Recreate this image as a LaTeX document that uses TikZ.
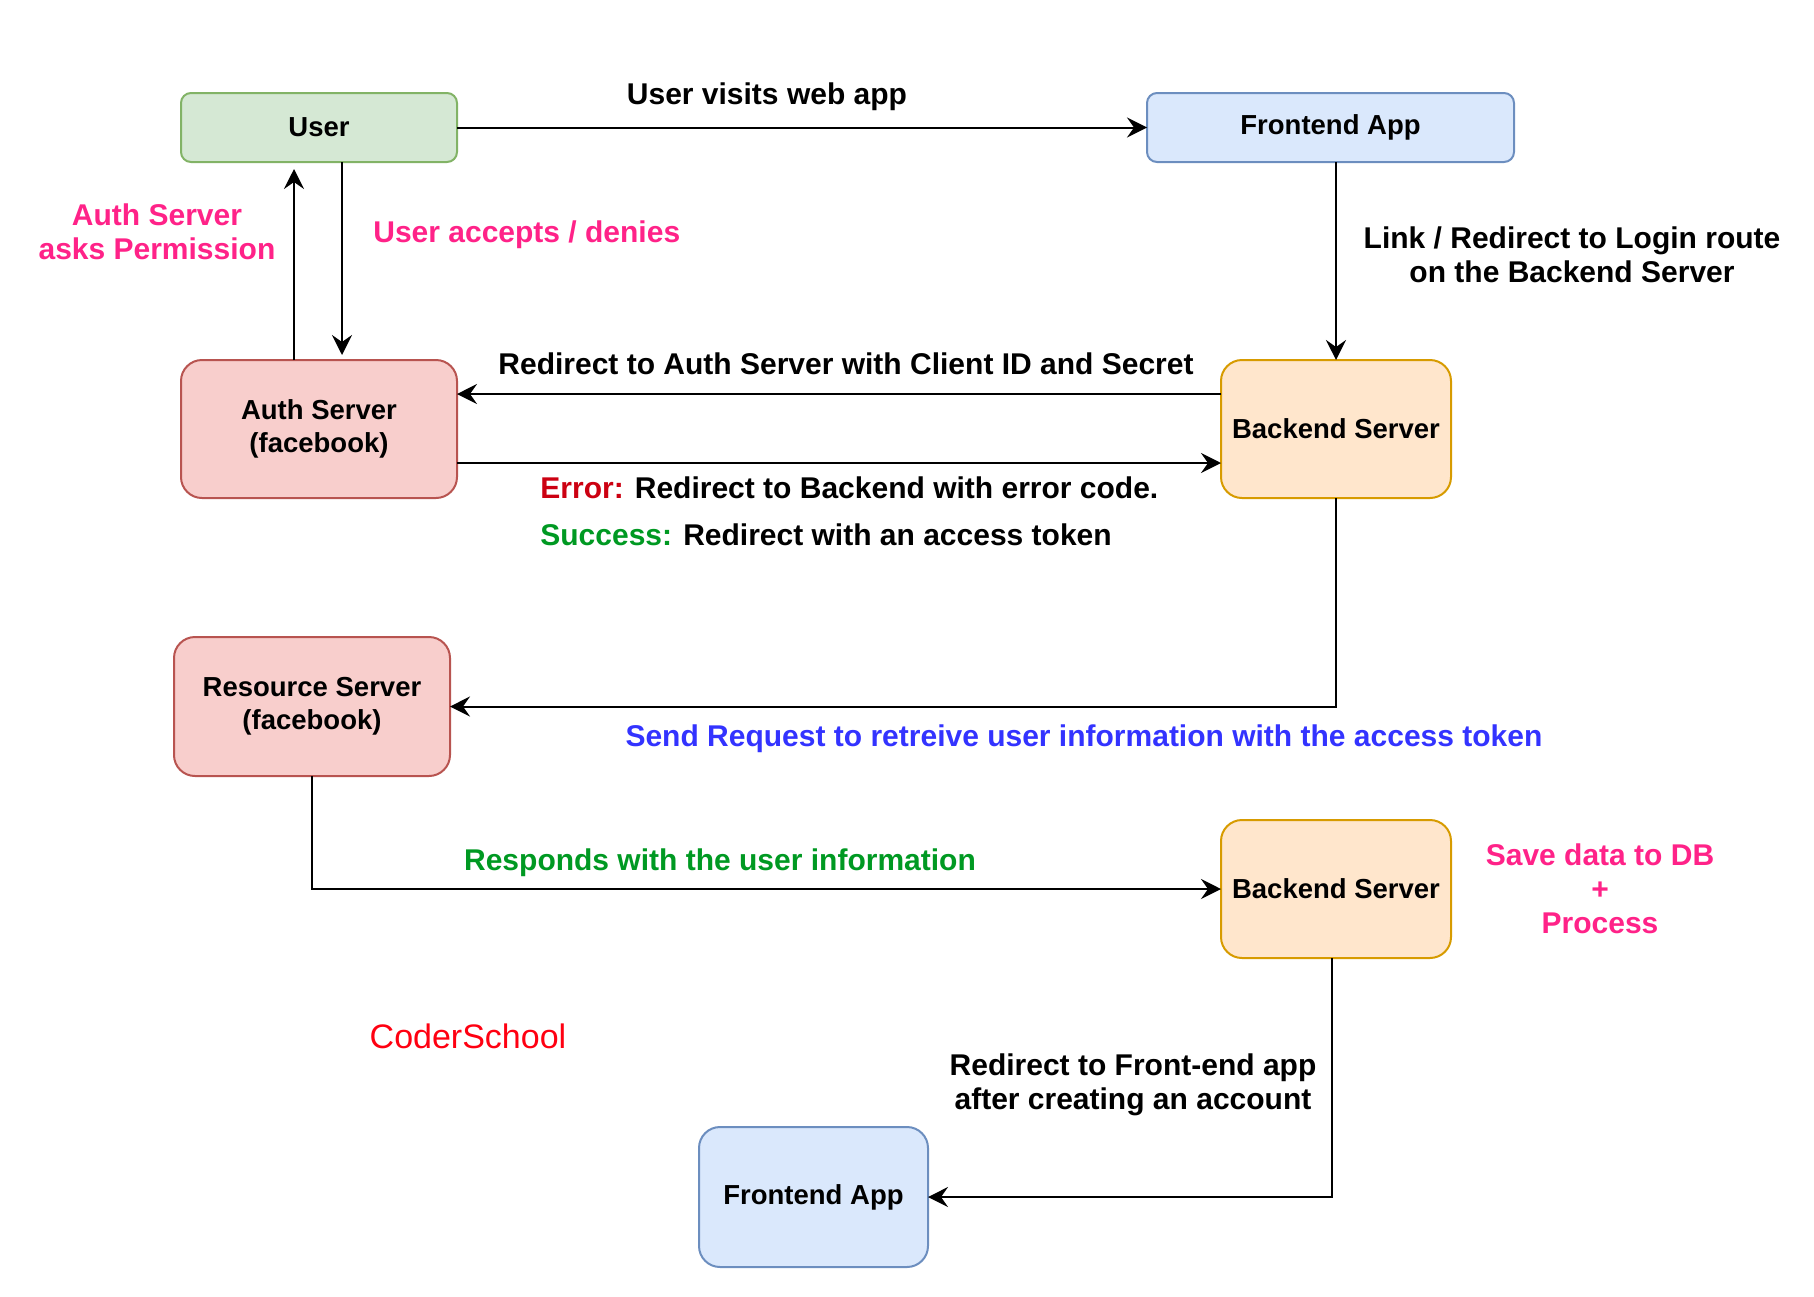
\documentclass[tikz,border=0pt]{standalone}
\usepackage{fontspec}
\setmainfont{Liberation Sans}
\usetikzlibrary{arrows.meta,calc}
\definecolor{gfill}{HTML}{D5E8D4}\definecolor{gdraw}{HTML}{82B366}
\definecolor{bfill}{HTML}{DAE8FC}\definecolor{bdraw}{HTML}{6C8EBF}
\definecolor{rfill}{HTML}{F8CECC}\definecolor{rdraw}{HTML}{B85450}
\definecolor{ofill}{HTML}{FFE6CC}\definecolor{odraw}{HTML}{D79B00}
\definecolor{pinktxt}{HTML}{FF2288}
\definecolor{errtxt}{HTML}{CC0011}
\definecolor{oktxt}{HTML}{009922}
\definecolor{bluetxt}{HTML}{3333FF}
\definecolor{logotxt}{HTML}{FF0011}
\tikzset{
  box/.style={draw, line width=1pt, inner sep=0pt, outer sep=0pt, align=center,
    font=\fontsize{13.75}{16.5}\selectfont\bfseries},
  greenbox/.style={box, fill=gfill, draw=gdraw, rounded corners=5pt},
  bluebox/.style={box, fill=bfill, draw=bdraw},
  redbox/.style={box, fill=rfill, draw=rdraw, rounded corners=10.5pt},
  orangebox/.style={box, fill=ofill, draw=odraw, rounded corners=10.5pt},
  lbl/.style={inner sep=0pt, align=center, font=\fontsize{15}{17}\selectfont\bfseries},
  conn/.style={line width=1pt, -{Stealth[length=10pt, width=10pt, inset=3.5pt]}}
}
\begin{document}
\begin{tikzpicture}[x=0.5pt, y=-0.5pt]
\useasboundingbox (0,0) rectangle (1814,1296);
% nodes
\node[greenbox, minimum width=138pt, minimum height=34.5pt] (user) at (319,127.5) {User};
\node[bluebox, rounded corners=5pt, minimum width=183.5pt, minimum height=34.5pt] (front1) at (1330.5,127.5) {Frontend App};
\node[redbox, minimum width=138pt, minimum height=69pt] (auth) at (319,429) {Auth Server\\(facebook)};
\node[orangebox, minimum width=115pt, minimum height=69pt] (back1) at (1336,429) {Backend Server};
\node[redbox, minimum width=138pt, minimum height=69.5pt] (res) at (312,706.5) {Resource Server\\(facebook)};
\node[orangebox, minimum width=115pt, minimum height=69pt] (back2) at (1336,889) {Backend Server};
\node[bluebox, rounded corners=10.5pt, minimum width=114.5pt, minimum height=70pt] (front2) at (813.5,1197) {Frontend App};
% connectors
\draw[conn] (user.east) -- (front1.west);
\draw[conn] (back1.north |- front1.south) -- (back1.north);
\draw[conn] ([yshift=17.5pt]back1.west) -- ([yshift=17.5pt]auth.east);
\draw[conn] ([yshift=-17pt]auth.east) -- ([yshift=-17pt]back1.west);
\draw[conn, shorten >=3.5pt] ([xshift=-12.5pt]auth.north) -- ([xshift=-12.5pt]user.south);
\draw[conn, shorten >=2.5pt] ([xshift=11.5pt]user.south) -- ([xshift=11.5pt]auth.north);
\draw[conn] (back1.south) |- (res.east);
\draw[conn] (res.south) |- (back2.west);
\draw[conn] ([xshift=-2.25pt]back2.south) |- (front2.east);
% labels
\node[lbl] (l1) at (767,97) {User visits web app};
\node[lbl] (l2) at (1572,255) {Link / Redirect to Login route\\on the Backend Server};
\node[lbl] (l3) at (846,364) {Redirect to Auth Server with Client ID and Secret};
\node[lbl, anchor=west] (l4) at (540,488) {\textcolor{errtxt}{Error:} Redirect to Backend with error code.};
\node[lbl, anchor=west] (l5) at (540,535) {\textcolor{oktxt}{Success:} Redirect with an access token};
\node[lbl, text=pinktxt] (l6) at (157,232) {Auth Server\\asks Permission};
\node[lbl, text=pinktxt, anchor=west] (l7) at (373,235) {User accepts / denies};
\node[lbl, text=bluetxt] (l8) at (1084,739) {Send Request to retreive user information with the access token};
\node[lbl, text=oktxt] (l9) at (720,863) {Responds with the user information};
\node[lbl, text=pinktxt] (l10) at (1600,889) {Save data to DB\\+\\Process};
\node[lbl] (l11) at (1133,1085) {Redirect to Front-end app\\after creating an account};
\node[inner sep=0pt, text=logotxt, font=\fontsize{17}{20}\selectfont] (logo) at (468,1036) {CoderSchool};
\end{tikzpicture}
\end{document}
